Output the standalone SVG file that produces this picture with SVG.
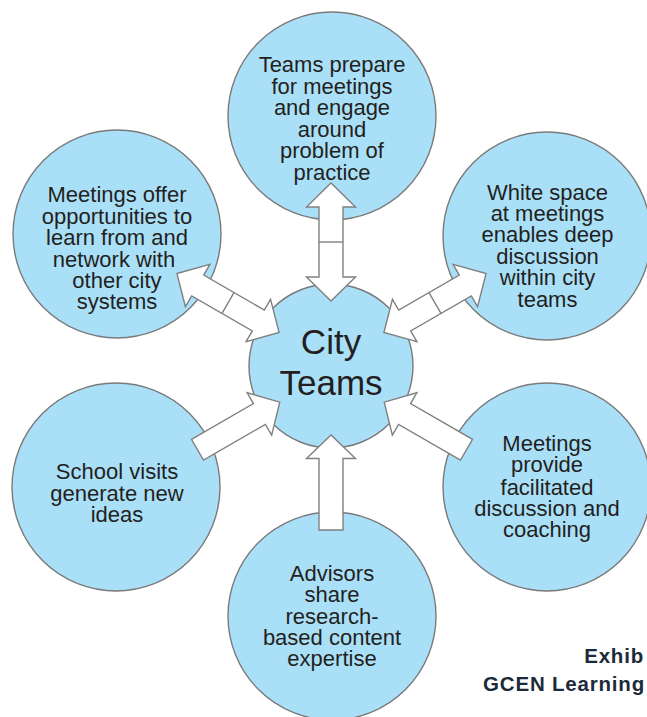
<svg xmlns="http://www.w3.org/2000/svg" width="647" height="717" viewBox="0 0 647 717">
<style>
.c{fill:#aadff8;stroke:#7a7a7a;stroke-width:1.4}
.t{font-family:"Liberation Sans",Arial,sans-serif;font-size:22px;fill:#231f20;text-anchor:middle}
.big{font-size:35px}
.a{fill:#ffffff;stroke:#808080;stroke-width:1.4;stroke-linejoin:miter}
.d{stroke:#808080;stroke-width:1.4}
.ex{font-family:"Liberation Sans",Arial,sans-serif;font-weight:bold;font-size:20.5px;fill:#1c2b39;letter-spacing:0.8px;text-anchor:end}
</style>
<rect width="647" height="717" fill="#ffffff"/>
<g id="node-top">
<circle class="c" cx="332" cy="116" r="104"/>
<text class="t"><tspan x="332" y="72">Teams prepare</tspan><tspan x="332" y="93.5">for meetings</tspan><tspan x="332" y="115">and engage</tspan><tspan x="332" y="136.5">around</tspan><tspan x="332" y="158">problem of</tspan><tspan x="332" y="179.5">practice</tspan></text>
</g>
<g id="node-topleft">
<circle class="c" cx="117" cy="234" r="104"/>
<text class="t"><tspan x="117" y="202">Meetings offer</tspan><tspan x="117" y="223.5">opportunities to</tspan><tspan x="117" y="245">learn from and</tspan><tspan x="114" y="266.5">network with</tspan><tspan x="117" y="288">other city</tspan><tspan x="117" y="309">systems</tspan></text>
</g>
<g id="node-topright">
<circle class="c" cx="547" cy="236" r="104"/>
<text class="t"><tspan x="547.5" y="199.5">White space</tspan><tspan x="547.5" y="221">at meetings</tspan><tspan x="547.5" y="242">enables deep</tspan><tspan x="547.5" y="263.5">discussion</tspan><tspan x="547.5" y="285">within city</tspan><tspan x="547.5" y="306.5">teams</tspan></text>
</g>
<g id="node-bottomleft">
<circle class="c" cx="116" cy="487" r="104"/>
<text class="t"><tspan x="117" y="478.5">School visits</tspan><tspan x="117" y="500.5">generate new</tspan><tspan x="117" y="522">ideas</tspan></text>
</g>
<g id="node-bottomright">
<circle class="c" cx="547" cy="487" r="104"/>
<text class="t"><tspan x="547" y="451">Meetings</tspan><tspan x="547" y="472">provide</tspan><tspan x="547" y="494.5">facilitated</tspan><tspan x="547" y="516">discussion and</tspan><tspan x="547" y="537">coaching</tspan></text>
</g>
<g id="node-bottom">
<circle class="c" cx="332" cy="616" r="104"/>
<text class="t"><tspan x="332" y="581">Advisors</tspan><tspan x="332" y="602">share</tspan><tspan x="332" y="623.5">research-</tspan><tspan x="332" y="645">based content</tspan><tspan x="332" y="666">expertise</tspan></text>
</g>
<g id="node-center">
<circle class="c" cx="331" cy="366" r="82"/>
<text class="t big"><tspan x="331" y="354">City</tspan><tspan x="331" y="395">Teams</tspan></text>
</g>
<g id="connectors">
<g transform="translate(331,242) rotate(90)"><polygon class="a" points="-59,0 -35,-24.5 -35,-12 35,-12 35,-24.5 59,0 35,24.5 35,12 -35,12 -35,24.5"/><line class="d" x1="0" y1="-12" x2="0" y2="12"/></g>
<g transform="translate(228,303) rotate(30)"><polygon class="a" points="-59,0 -35,-24.5 -35,-12 35,-12 35,-24.5 59,0 35,24.5 35,12 -35,12 -35,24.5"/><line class="d" x1="0" y1="-12" x2="0" y2="12"/></g>
<g transform="translate(435,303) rotate(-30)"><polygon class="a" points="-59,0 -35,-24.5 -35,-12 35,-12 35,-24.5 59,0 35,24.5 35,12 -35,12 -35,24.5"/><line class="d" x1="0" y1="-12" x2="0" y2="12"/></g>
<polygon class="a" transform="translate(197.5,449.7) rotate(-30)" points="0,-12 71.5,-12 71.5,-24.5 95,0 71.5,24.5 71.5,12 0,12"/>
<polygon class="a" transform="translate(466.5,449.7) rotate(-150)" points="0,-12 71.5,-12 71.5,-24.5 95,0 71.5,24.5 71.5,12 0,12"/>
<polygon class="a" transform="translate(331,530) rotate(-90)" points="0,-12 71.5,-12 71.5,-24.5 95,0 71.5,24.5 71.5,12 0,12"/>
</g>
<g id="caption">
<text class="ex" x="644" y="663">Exhib</text>
<text class="ex" x="645" y="690.5">GCEN Learning</text>
</g>
</svg>
